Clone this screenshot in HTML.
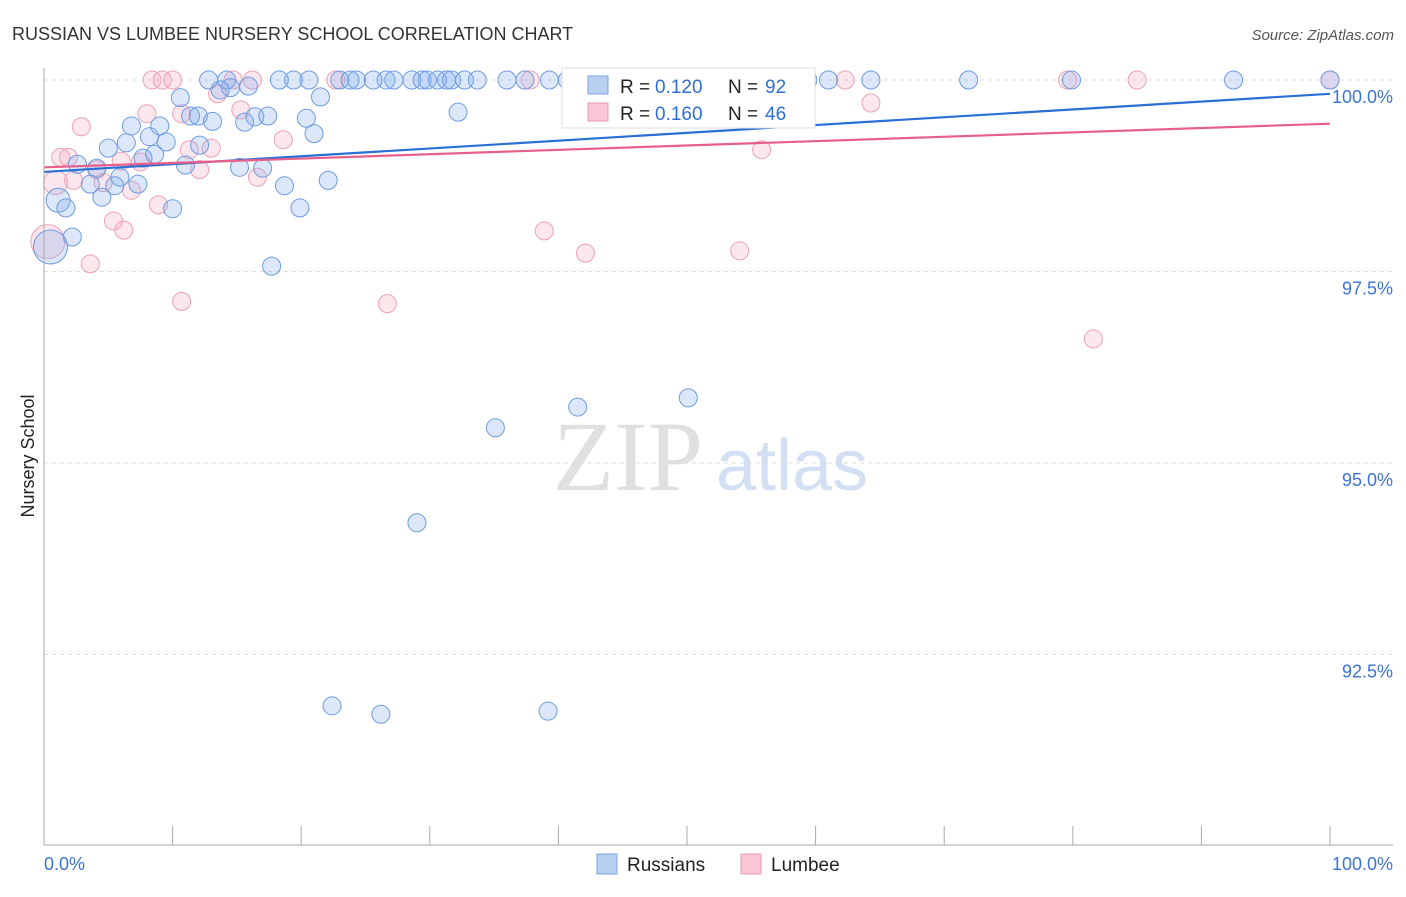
<!DOCTYPE html>
<html><head><meta charset="utf-8"><style>
body{margin:0;background:#fff;font-family:"Liberation Sans",sans-serif}
</style></head><body>
<svg id="c" width="1406" height="892" xmlns="http://www.w3.org/2000/svg">
<text x="12" y="40" font-size="18" fill="#333">RUSSIAN VS LUMBEE NURSERY SCHOOL CORRELATION CHART</text>
<text x="1394" y="40" font-size="15" fill="#555" font-style="italic" text-anchor="end">Source: ZipAtlas.com</text>
<text x="34" y="456" font-size="18" fill="#222" transform="rotate(-90 34 456)" text-anchor="middle">Nursery School</text>
<text x="553" y="490" font-size="100" fill="#e0e0e0" font-family="Liberation Serif,serif">ZIP</text>
<text x="716" y="490" font-size="72" fill="#d3e0f4">atlas</text>
<g id="grid"></g><g id="marks"></g>
<line x1="44" y1="68" x2="44" y2="845" stroke="#aaa"/>
<line x1="44" y1="845" x2="1393" y2="845" stroke="#aaa"/>
<text x="44" y="870" font-size="18" fill="#3b73d4">0.0%</text>
<text x="1393" y="870" font-size="18" fill="#3b73d4" text-anchor="end">100.0%</text>
<g>
<rect x="562" y="68" width="253" height="60" fill="#fff" stroke="#ddd"/>
<rect x="588" y="76" width="20" height="18" fill="#b9d0f2" stroke="#7aa3e0"/>
<text x="620" y="93" font-size="19" fill="#222">R =</text><text x="655" y="93" font-size="19" fill="#2f6fd6">0.120</text>
<text x="728" y="93" font-size="19" fill="#222">N =</text><text x="765" y="93" font-size="19" fill="#2f6fd6">92</text>
<rect x="588" y="103" width="20" height="18" fill="#f9c6d5" stroke="#ec9ab2"/>
<text x="620" y="120" font-size="19" fill="#222">R =</text><text x="655" y="120" font-size="19" fill="#2f6fd6">0.160</text>
<text x="728" y="120" font-size="19" fill="#222">N =</text><text x="765" y="120" font-size="19" fill="#2f6fd6">46</text>
</g>
<g>
<rect x="597" y="854" width="20" height="20" fill="#b9d0f2" stroke="#7aa3e0"/>
<text x="627" y="871" font-size="19" fill="#222">Russians</text>
<rect x="741" y="854" width="20" height="20" fill="#f9c6d5" stroke="#ec9ab2"/>
<text x="771" y="871" font-size="19" fill="#222">Lumbee</text>
</g>
</svg>
<script>
const yTicks=[100,97.5,95,92.5];
const yTickLabels=["100.0%","97.5%","95.0%","92.5%"];
const xTicks=[0,10,20,30,40,50,60,70,80,90,100];
const blueX=[12.8,14.2,18.3,19.4,20.6,23.0,23.8,24.3,25.6,26.6,27.2,28.6,29.4,29.8,30.6,31.3,31.7,32.7,33.7,36.0,37.4,39.3,40.7,47.1,52.5,59.4,61.0,64.3,71.9,79.9,92.5,100,
14.5,15.9,13.7,10.6,21.5,32.2,11.4,12.0,13.1,15.6,16.4,17.4,20.4,6.8,9.0,21.0,8.2,9.5,6.4,5.0,12.1,8.6,7.7,2.6,4.1,11.0,15.2,17.0,5.9,3.6,7.3,5.5,18.7,22.1,4.5,1.1,1.7,10.0,19.9,2.2,0.5,17.7,41.5,50.1,35.1,29.0,22.4,26.2,39.2];
const blueY=[100,100,100,100,100,100,100,100,100,100,100,100,100,100,100,100,100,100,100,100,100,100,100,100,100,100,100,100,100,100,100,100,
99.9,99.92,99.87,99.77,99.78,99.58,99.53,99.53,99.46,99.45,99.52,99.53,99.5,99.4,99.4,99.3,99.26,99.19,99.18,99.11,99.15,99.03,98.98,98.9,98.85,98.89,98.86,98.85,98.73,98.64,98.64,98.62,98.62,98.69,98.47,98.43,98.33,98.32,98.33,97.95,97.82,97.57,95.73,95.85,95.46,94.22,91.83,91.72,91.76];
const pinkX=[8.4,9.2,10.0,14.7,16.2,22.7,37.8,62.3,79.6,85.0,100,13.5,8.0,10.7,15.3,64.3,2.9,18.6,11.3,13.0,55.8,1.3,1.9,6.0,7.5,4.1,12.1,2.3,0.9,4.6,16.6,6.8,8.9,5.4,6.2,38.9,42.1,54.1,3.6,10.7,26.7,81.6,0.3];
const pinkY=[100,100,100,100,100,100,100,100,100,100,100,99.82,99.56,99.56,99.61,99.7,99.39,99.22,99.09,99.11,99.09,98.99,98.99,98.94,98.93,98.83,98.83,98.69,98.66,98.66,98.73,98.56,98.37,98.16,98.04,98.03,97.74,97.77,97.6,97.11,97.08,96.62,97.89];
const blueTrend=[98.80,99.82];
const pinkTrend=[98.86,99.43];
const NS="http://www.w3.org/2000/svg";
const xs=v=>44+v*12.86, ys=v=>80+(100-v)*76.6;
const big=(x,y)=>x<0.6?17:(x<1.2&&y>98.3?12:9);
const grid=document.getElementById('grid'), marks=document.getElementById('marks');
function mk(tag,a,p){const e=document.createElementNS(NS,tag);for(const k in a)e.setAttribute(k,a[k]);p.appendChild(e);return e;}
yTicks.forEach((t,i)=>{
  const l=mk('line',{x1:44,x2:1393,y1:ys(t),y2:ys(t),stroke:'#ddd','stroke-dasharray':'4,4'},grid);
  
  
  const tx=mk('text',{x:1393,y:ys(t)+23,'font-size':18,fill:'#3b73d4','text-anchor':'end'},grid);
  tx.textContent=yTickLabels[i];
  
  
});
xTicks.forEach(t=>{
  const l=mk('line',{x1:xs(t),x2:xs(t),y1:826,y2:845,stroke:'#aaa'},grid);
  
  
});
pinkX.forEach((x,i)=>{
  const c=mk('circle',{cx:xs(x),cy:ys(pinkY[i]),r:big(x,pinkY[i]),fill:'rgba(244,160,185,0.25)',stroke:'#eda0b7','stroke-width':1},marks);
  
  
});
blueX.forEach((x,i)=>{
  const c=mk('circle',{cx:xs(x),cy:ys(blueY[i]),r:big(x,blueY[i]),fill:'rgba(130,172,236,0.28)',stroke:'#6d9ce0','stroke-width':1},marks);
  
  
});
const bl=mk('line',{x1:xs(0),x2:xs(100),y1:ys(blueTrend[0]),y2:ys(blueTrend[1]),stroke:'#2a6fd6','stroke-width':2.2},marks);


const pl=mk('line',{x1:xs(0),x2:xs(100),y1:ys(pinkTrend[0]),y2:ys(pinkTrend[1]),stroke:'#e8608a','stroke-width':2.2},marks);


</script>
</body></html>
